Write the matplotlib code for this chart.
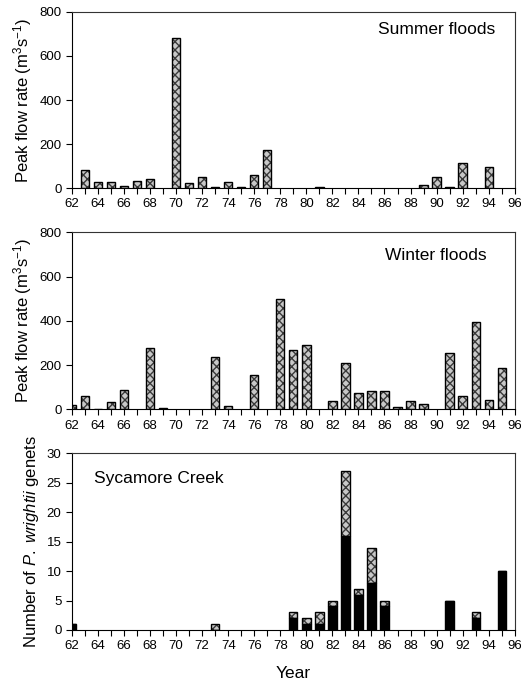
import matplotlib
matplotlib.use("Agg")
import matplotlib.pyplot as plt
import numpy as np

plt.rcParams['font.family'] = ['Liberation Sans', 'DejaVu Sans']
plt.rcParams['mathtext.fontset'] = 'custom'
plt.rcParams['mathtext.rm'] = 'Liberation Sans'
plt.rcParams['mathtext.it'] = 'Liberation Sans:italic'
plt.rcParams['mathtext.bf'] = 'Liberation Sans:bold'

# ---- data ----
summer_years = [63, 64, 65, 66, 67, 68, 70, 71, 72, 73, 74, 75, 76, 77, 81, 89, 90, 91, 92, 94]
summer_flow = [80, 27, 27, 9, 30, 42, 680, 24, 50, 3, 27, 5, 60, 173, 6, 15, 48, 3, 112, 97]

winter_years = [62, 63, 64, 65, 66, 68, 69, 73, 74, 76, 78, 79, 80, 82, 83, 84, 85, 86, 87, 88, 89, 91, 92, 93, 94, 95]
winter_flow = [18, 62, 2, 32, 87, 277, 4, 236, 14, 154, 500, 267, 291, 36, 208, 74, 83, 84, 9, 39, 26, 255, 62, 395, 42, 185]

genet_years = [62, 73, 79, 80, 81, 82, 83, 84, 85, 86, 91, 93, 95]
genets_black = [1, 0, 2, 1, 1, 4, 16, 6, 8, 4, 5, 2, 10]
genets_hatched = [0, 1, 1, 1, 2, 1, 11, 1, 6, 1, 0, 1, 0]

xticks_major = list(range(62, 97, 2))
flow_ticks = [0, 200, 400, 600, 800]
genet_ticks = [0, 5, 10, 15, 20, 25, 30]

W = 0.64
HFACE = '#c8c8c8'
HCOL = '#3a3a3a'

fig = plt.figure(figsize=(5.21, 6.85), dpi=100)
L, R = 0.138, 0.988
ax1 = fig.add_axes([L, 0.7255, R - L, 0.9825 - 0.7255])
ax2 = fig.add_axes([L, 0.4025, R - L, 0.6606 - 0.4025])
ax3 = fig.add_axes([L, 0.0803, R - L, 0.3382 - 0.0803])


def hatched_bars(ax, x, h, bottom=None):
    ax.bar(x, h, W, bottom=bottom, color=HFACE, edgecolor=HCOL, hatch='xxxx', linewidth=0, zorder=2)
    ax.bar(x, h, W, bottom=bottom, fill=False, edgecolor='black', linewidth=1.0, zorder=3)


def style(ax, ymax, yt):
    ax.set_xlim(62, 96)
    ax.set_ylim(0, ymax)
    ax.set_xticks(xticks_major)
    ax.set_xticklabels([str(v) for v in xticks_major], fontsize=9.5)
    ax.set_xticks(range(62, 97), minor=True)
    ax.set_yticks(yt)
    ax.set_yticklabels([str(v) for v in yt], fontsize=9.5)
    ax.tick_params(axis='both', which='major', direction='out', length=4, width=0.8)
    ax.tick_params(axis='x', which='minor', direction='out', length=4, width=0.8)
    for s in ax.spines.values():
        s.set_linewidth(0.8)
        s.set_color('#333333')
    ax.spines['left'].set_color('black')
    ax.spines['bottom'].set_color('black')


hatched_bars(ax1, summer_years, summer_flow)
style(ax1, 800, flow_ticks)
ax1.set_ylabel('Peak flow rate (m$^3$s$^{-1}$)', fontsize=12, labelpad=4)
ax1.text(0.955, 0.90, 'Summer floods', transform=ax1.transAxes, ha='right', va='center', fontsize=12.5)

hatched_bars(ax2, winter_years, winter_flow)
style(ax2, 800, flow_ticks)
ax2.set_ylabel('Peak flow rate (m$^3$s$^{-1}$)', fontsize=12, labelpad=4)
ax2.text(0.937, 0.87, 'Winter floods', transform=ax2.transAxes, ha='right', va='center', fontsize=12.5)

ax3.bar(genet_years, genets_black, W, color='black', edgecolor='black', linewidth=1.0, zorder=3)
hatched_bars(ax3, genet_years, genets_hatched, bottom=genets_black)
style(ax3, 30, genet_ticks)
ax3.set_ylabel('Number of $\\it{P.}$ $\\it{wrightii}$ genets', fontsize=12, labelpad=4)
ax3.text(0.05, 0.86, 'Sycamore Creek', transform=ax3.transAxes, ha='left', va='center', fontsize=12.5)
ax3.set_xlabel('Year', fontsize=12.5, labelpad=10)

fig.savefig('out.png', dpi=100)
